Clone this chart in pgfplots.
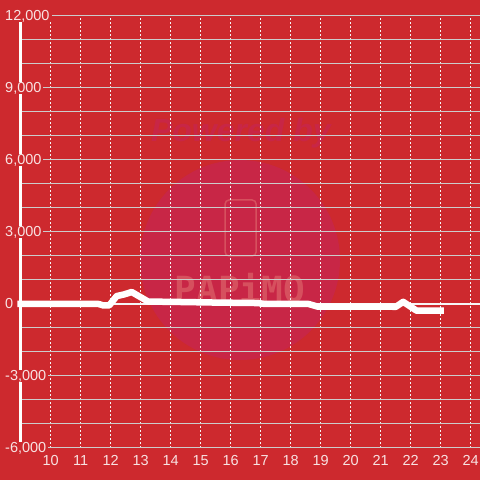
\documentclass[border=0pt]{standalone}
\usepackage{fontspec}
\setmainfont{Liberation Sans}
\newfontfamily\wmmono{DejaVu Sans Mono}
\usepackage{pgfplots}
\pgfplotsset{compat=1.18}
\definecolor{bg}{RGB}{205,41,46}
\definecolor{wm}{RGB}{200,38,70}
\definecolor{wmtext}{RGB}{214,80,94}
\definecolor{gridc}{RGB}{204,204,204}
\definecolor{lab}{RGB}{248,226,226}
\begin{document}
\begin{tikzpicture}[x=1pt,y=1pt]
\begin{axis}[
  set layers,
  at={(20.7pt,32pt)}, anchor=south west,
  scale only axis, width=459.3pt, height=432pt,
  xmin=9, xmax=24.31, ymin=-6000, ymax=12000,
  clip=false,
  scaled y ticks=false, scaled x ticks=false,
  axis lines*=left,
  x axis line style={gridc, line width=1pt},
  y axis line style={white, line width=3pt},
  xtick={10,11,...,24},
  xticklabels={10,11,12,13,14,15,16,17,18,19,20,21,22,23,24},
  ytick={-6000,-3000,0,3000,6000,9000,12000},
  yticklabels={{-6,000},{-3,000},{0},{3,000},{6,000},{9,000},{12,000}},
  minor ytick={-5000,-4000,-2000,-1000,1000,2000,4000,5000,7000,8000,10000,11000},
  ymajorgrids, yminorgrids, xmajorgrids,
  major tick length=0pt, minor tick length=0pt,
  major grid style={gridc, line width=1pt},
  minor grid style={gridc, line width=1pt},
  every axis x grid/.style={white!92!gray, line width=1pt, dash pattern=on 2pt off 2pt},
  every axis y grid/.style={gridc, line width=1pt},
  tick label style={font=\fontsize{14.5}{16}\selectfont, text=lab},
  xticklabel style={anchor=north, inner sep=0pt, yshift=-7pt},
  yticklabel style={anchor=west, inner xsep=2pt, inner ysep=0pt, fill=bg, xshift=-17.7pt},
]
\begin{pgfonlayer}{axis background}
\fill[bg] (axis cs:8.31,-7333.3) rectangle (axis cs:24.31,12666.7);
\node[circle, fill=wm, minimum size=200pt, inner sep=0pt] at (axis cs:16.31,1833) {};
\node[text=wm, font=\fontsize{32}{36}\selectfont\bfseries\itshape, inner sep=0pt] at (axis cs:16.34,7125) {Powered by};
\node[draw=wmtext, line width=1.5pt, rounded corners=4pt, minimum width=31pt, minimum height=56pt, inner sep=0pt] at (axis cs:16.33,3167) {};
\node[text=wmtext, font=\wmmono\bfseries\fontsize{36}{40}\selectfont, inner sep=0pt] at (axis cs:16.31,667) {PAPiMO};
\end{pgfonlayer}
\addplot[color=white!93!gray, line width=2pt] coordinates {(9,0) (24.31,0)};
\addplot[color=white, line width=6.5pt, line cap=rect, line join=round] coordinates {
(9,0) (11.6,0) (11.75,-60) (11.95,-60) (12.2,330) (12.45,400) (12.7,500) (13.25,100)
(14,90) (15.5,60) (16.9,40) (17.15,0) (18.6,0) (18.9,-110) (21.3,-110) (21.5,-120)
(21.75,90) (22.2,-280) (23,-280)};
\end{axis}
\pgfresetboundingbox
\path[use as bounding box] (0,0) rectangle (480,480);
\end{tikzpicture}
\end{document}
